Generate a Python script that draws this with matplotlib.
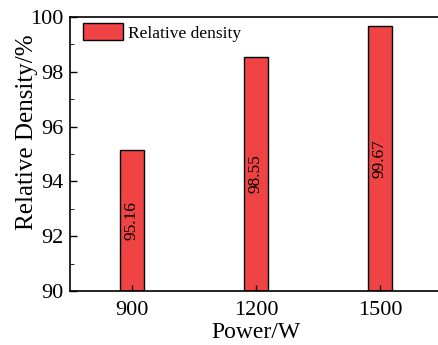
import matplotlib
matplotlib.use("Agg")
import matplotlib.pyplot as plt
from matplotlib.ticker import MultipleLocator

power = [900, 1200, 1500]
density = [95.16, 98.55, 99.67]
labels = ["95.16", "98.55", "99.67"]

plt.rcParams['font.family'] = ['Liberation Serif', 'DejaVu Serif']

fig = plt.figure(figsize=(4.38, 3.45), dpi=100)
ax = fig.add_axes([70/438, 1 - 291/345, 372/438, (291-17)/345])

bars = ax.bar(power, [d - 90 for d in density], bottom=90, width=60,
              color='#F04343', edgecolor='black', linewidth=1.0, label='Relative density')
for x, d, lab in zip(power, density, labels):
    ax.text(x, (90 + d) / 2, lab, rotation=90, ha='center', va='center', fontsize=12.5)

ax.set_xlim(750, 1650)
ax.set_ylim(90, 100)
ax.set_xticks(power)
ax.yaxis.set_major_locator(MultipleLocator(2))
ax.yaxis.set_minor_locator(MultipleLocator(1))
ax.tick_params(axis='both', direction='in', labelsize=16, width=1.0)
ax.tick_params(axis='y', which='major', length=5, pad=5)
ax.tick_params(axis='y', which='minor', direction='in', length=3)
ax.tick_params(axis='x', length=4, top=False, pad=7)
for s in ax.spines.values():
    s.set_linewidth(1.2)
ax.set_xlabel('Power/W', fontsize=17)
ax.set_ylabel('Relative Density/%', fontsize=18)
ax.xaxis.set_label_coords(0.5, -0.112)
ax.yaxis.set_label_coords(-0.087, 0.58)

leg = ax.legend(loc='upper left', bbox_to_anchor=(0.0, 1.025), frameon=False,
                fontsize=12.5, handlelength=2.3, handleheight=1.15,
                borderaxespad=0.35, handletextpad=0.3, borderpad=0.4)

fig.savefig('out.png', dpi=100)
